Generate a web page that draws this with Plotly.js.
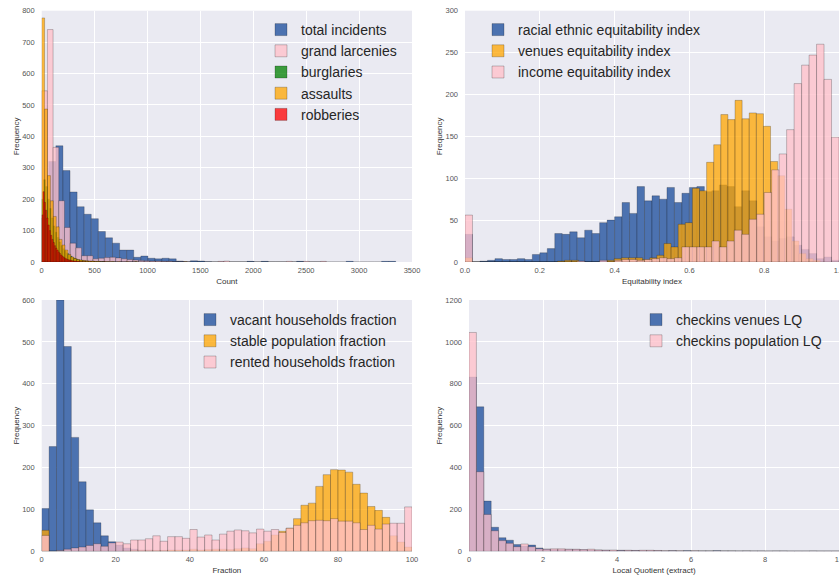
<!DOCTYPE html>
<html><head><meta charset="utf-8">
<script src="https://cdn.plot.ly/plotly-3.0.1.min.js"></script>
<style>html,body{margin:0;padding:0;background:#fff}#chart{width:839px;height:576px}</style>
</head><body><div id="chart"></div>
<script>
// ---------- Panel 1: crime counts (value range [min, max], 50 bins each) ----------
const totalIncidentsRange = [0, 3346];
const totalIncidents = [140, 320, 370, 291, 223, 176, 152, 138, 97, 77, 60, 38, 38, 15, 19, 12, 10, 12, 10, 3, 1, 4, 3, 1, 0, 1, 0, 0, 0, 2, 0, 2, 0, 0, 0, 0, 2, 0, 0, 0, 0, 0, 0, 2, 0, 0, 0, 0, 2, 2];
const grandLarceniesRange = [0, 2690];
const grandLarcenies = [545, 740, 365, 195, 110, 60, 45, 20, 20, 10, 12, 14, 15, 13, 10, 8, 6, 5, 4, 3, 3, 2, 2, 1, 1, 1, 0, 0, 0, 0, 0, 2, 3, 0, 0, 0, 0, 0, 0, 0, 0, 0, 0, 2, 0, 0, 2, 0, 0, 2];
const burglariesRange = [0, 900];
const burglaries = [200, 262, 240, 200, 170, 140, 115, 95, 78, 64, 52, 42, 34, 28, 22, 18, 14, 11, 9, 7, 6, 5, 4, 3, 3, 2, 2, 2, 1, 1, 1, 1, 1, 0, 1, 0, 0, 1, 0, 0, 0, 0, 0, 0, 0, 0, 0, 0, 0, 1];
const assaultsRange = [0, 1375];
const assaults = [777, 487, 275, 195, 145, 112, 72, 54, 38, 24, 16, 11, 8, 6, 5, 4, 3, 3, 2, 2, 1, 1, 1, 1, 1, 0, 1, 0, 0, 1, 0, 0, 1, 0, 0, 0, 0, 0, 0, 0, 0, 0, 0, 0, 0, 0, 0, 0, 0, 1];
const robberiesRange = [0, 600];
const robberies = [150, 224, 190, 165, 140, 118, 100, 85, 72, 62, 52, 44, 38, 32, 27, 22, 18, 15, 12, 10, 8, 7, 6, 5, 4, 3, 3, 2, 2, 2, 1, 1, 1, 1, 1, 0, 1, 0, 1, 0, 0, 1, 0, 0, 0, 0, 0, 0, 0, 1];

// ---------- Panel 2: equitability indices ----------
const racialRange = [0, 1];
const racialEthnic = [33, 0, 1, 2, 4, 3, 3, 4, 3, 9, 11, 16, 34, 33, 36, 29, 38, 34, 47, 50, 54, 71, 58, 90, 73, 79, 75, 89, 71, 82, 89, 90, 84, 85, 92, 90, 66, 85, 73, 42, 30, 25, 28, 30, 20, 15, 10, 4, 6, 2];
const venuesRange = [0, 0.95];
const venuesEq = [5, 0, 0, 0, 0, 0, 0, 0, 0, 0, 0, 0, 0, 1, 2, 2, 0, 0, 0, 0, 2, 4, 5, 5, 5, 3, 5, 8, 22, 18, 45, 47, 88, 85, 119, 140, 176, 170, 193, 171, 178, 177, 162, 120, 103, 63, 25, 10, 4, 2];
const incomeRange = [0, 1];
const incomeEq = [56, 0, 0, 0, 0, 0, 0, 0, 0, 0, 0, 0, 0, 0, 0, 1, 0, 0, 2, 0, 2, 3, 3, 2, 3, 4, 5, 4, 5, 18, 18, 18, 18, 25, 18, 25, 38, 33, 51, 57, 83, 110, 129, 158, 213, 235, 247, 260, 218, 149];

// ---------- Panel 3: fractions ----------
const vacantRange = [0, 100];
const vacantHH = [102, 250, 600, 489, 272, 166, 99, 68, 37, 23, 15, 8, 5, 3, 3, 2, 2, 1, 1, 1, 1, 0, 1, 0, 0, 0, 0, 0, 0, 0, 0, 0, 0, 0, 0, 0, 0, 0, 0, 0, 0, 0, 0, 0, 0, 0, 0, 0, 0, 0];
const stableRange = [0, 100];
const stablePop = [50, 0, 0, 0, 0, 0, 0, 0, 0, 0, 0, 1, 2, 2, 2, 2, 2, 3, 3, 3, 5, 3, 4, 5, 5, 4, 6, 8, 6, 18, 24, 39, 48, 55, 78, 110, 115, 155, 183, 195, 194, 189, 160, 139, 107, 98, 81, 37, 22, 10];
const rentedRange = [0, 100];
const rentedHH = [38, 0, 2, 5, 8, 10, 14, 18, 12, 20, 22, 18, 27, 27, 30, 37, 24, 35, 35, 31, 52, 34, 39, 27, 41, 48, 51, 49, 44, 53, 48, 52, 45, 55, 62, 68, 73, 74, 73, 78, 72, 72, 68, 52, 62, 53, 65, 67, 67, 106];

// ---------- Panel 4: local quotients ----------
const venuesLQRange = [0, 10];
const venuesLQ = [832, 690, 240, 115, 65, 53, 32, 25, 30, 16, 10, 8, 8, 9, 8, 7, 6, 6, 5, 4, 5, 4, 4, 3, 3, 3, 2, 3, 2, 3, 2, 2, 2, 3, 2, 2, 2, 2, 2, 1, 1, 2, 1, 1, 1, 1, 2, 1, 1, 1];
const populationLQRange = [0, 10];
const populationLQ = [1045, 380, 176, 98, 51, 38, 22, 35, 22, 12, 10, 12, 12, 10, 10, 8, 10, 6, 5, 6, 4, 5, 4, 5, 5, 4, 3, 3, 3, 2, 3, 2, 2, 2, 2, 2, 1, 2, 1, 2, 1, 1, 2, 1, 1, 1, 1, 1, 1, 1];

const FONT = '"Liberation Sans", Arial, sans-serif';
const EDGE = 'rgba(0,0,0,0.28)';

function hist(name, range, counts, color, xa, ya, legend) {
  const w = (range[1] - range[0]) / counts.length;
  const x = counts.map((_, i) => range[0] + (i + 0.5) * w);
  return {
    type: 'bar', name: name, x: x, y: counts, width: w,
    xaxis: xa, yaxis: ya, legend: legend,
    marker: {color: color, line: {color: EDGE, width: 0.8}},
    hoverinfo: 'skip'
  };
}

const BLUE = 'rgb(76,114,176)';
const PINK = 'rgba(255,192,203,0.78)';
const GREEN = 'rgba(0,128,0,0.75)';
const ORANGE = 'rgba(255,165,0,0.75)';
const RED = 'rgba(255,0,0,0.75)';

const traces = [
  hist('total incidents', totalIncidentsRange, totalIncidents, BLUE, 'x', 'y', 'legend'),
  hist('grand larcenies', grandLarceniesRange, grandLarcenies, PINK, 'x', 'y', 'legend'),
  hist('burglaries', burglariesRange, burglaries, GREEN, 'x', 'y', 'legend'),
  hist('assaults', assaultsRange, assaults, ORANGE, 'x', 'y', 'legend'),
  hist('robberies', robberiesRange, robberies, RED, 'x', 'y', 'legend'),

  hist('racial ethnic equitability index', racialRange, racialEthnic, BLUE, 'x2', 'y2', 'legend2'),
  hist('venues equitability index', venuesRange, venuesEq, ORANGE, 'x2', 'y2', 'legend2'),
  hist('income equitability index', incomeRange, incomeEq, PINK, 'x2', 'y2', 'legend2'),

  hist('vacant households fraction', vacantRange, vacantHH, BLUE, 'x3', 'y3', 'legend3'),
  hist('stable population fraction', stableRange, stablePop, ORANGE, 'x3', 'y3', 'legend3'),
  hist('rented households fraction', rentedRange, rentedHH, PINK, 'x3', 'y3', 'legend3'),

  hist('checkins venues LQ', venuesLQRange, venuesLQ, BLUE, 'x4', 'y4', 'legend4'),
  hist('checkins population LQ', populationLQRange, populationLQ, PINK, 'x4', 'y4', 'legend4')
];

const W = 839, H = 576;
function ax(extra) {
  return Object.assign({
    showgrid: true, gridcolor: '#ffffff', gridwidth: 1,
    zeroline: false, showline: false, ticks: '',
    tickfont: {family: FONT, size: 7.5, color: '#555555'},
    ticklabeloverflow: 'allow',
    fixedrange: true
  }, extra);
}
function xt(t) { return {text: t, font: {family: FONT, size: 8, color: '#333333'}, standoff: 4}; }
const yTitle = {text: 'Frequency', font: {family: FONT, size: 8, color: '#333333'}, standoff: 1};

const topDom = [(H - 262) / H, (H - 10.7) / H];
const botDom = [(H - 551.3) / H, (H - 300) / H];
const leftDom = [41.7 / W, 412 / W];

function leg(x, y) {
  return {x: x, y: y, xanchor: 'left', yanchor: 'top', bgcolor: 'rgba(0,0,0,0)',
    font: {family: FONT, size: 14, color: '#262626'}, traceorder: 'normal'};
}

const layout = {
  width: W, height: H,
  margin: {l: 0, r: 0, t: 0, b: 0},
  paper_bgcolor: '#ffffff', plot_bgcolor: '#EAEAF2',
  barmode: 'overlay',
  showlegend: true,
  xaxis: ax({domain: leftDom, anchor: 'y', range: [0, 3500], tickvals: [0, 500, 1000, 1500, 2000, 2500, 3000, 3500], title: xt('Count'), ticklabelstandoff: 2}),
  yaxis: ax({domain: topDom, anchor: 'x', range: [0, 800], tickvals: [0, 100, 200, 300, 400, 500, 600, 700, 800], title: yTitle, ticklabelstandoff: 6}),
  xaxis2: ax({domain: [465 / W, 1], anchor: 'y2', range: [0, 1], tickvals: [0, 0.2, 0.4, 0.6, 0.8, 1.0], tickformat: '.1f', title: xt('Equitability index'), ticklabelstandoff: 2}),
  yaxis2: ax({domain: topDom, anchor: 'x2', range: [0, 300], tickvals: [0, 50, 100, 150, 200, 250, 300], title: yTitle, ticklabelstandoff: 6}),
  xaxis3: ax({domain: leftDom, anchor: 'y3', range: [0, 100], tickvals: [0, 20, 40, 60, 80, 100], title: xt('Fraction'), ticklabelstandoff: 2}),
  yaxis3: ax({domain: botDom, anchor: 'x3', range: [0, 600], tickvals: [0, 100, 200, 300, 400, 500, 600], title: yTitle, ticklabelstandoff: 6}),
  xaxis4: ax({domain: [469 / W, 1], anchor: 'y4', range: [0, 10], tickvals: [0, 2, 4, 6, 8, 10], title: xt('Local Quotient (extract)'), ticklabelstandoff: 2}),
  yaxis4: ax({domain: botDom, anchor: 'x4', range: [0, 1200], tickvals: [0, 200, 400, 600, 800, 1000, 1200], title: yTitle, ticklabelstandoff: 6}),
  legend: leg(261 / W, (H - 14) / H),
  legend2: leg(478 / W, (H - 14) / H),
  legend3: leg(190 / W, (H - 304) / H),
  legend4: leg(636 / W, (H - 304) / H)
};

Plotly.newPlot('chart', traces, layout, {displayModeBar: false, staticPlot: true});
</script></body></html>
